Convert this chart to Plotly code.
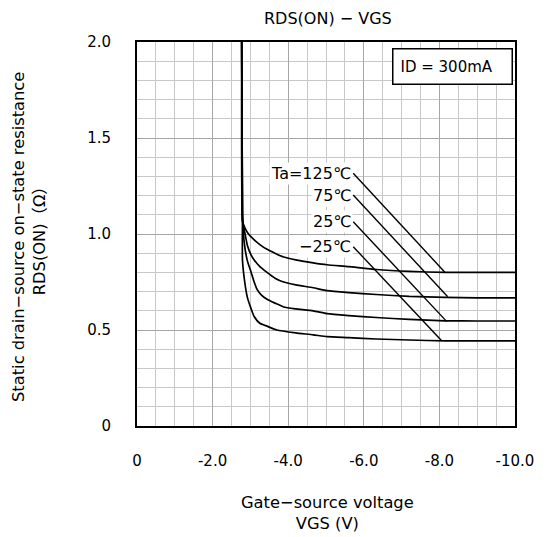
import plotly.graph_objects as go

# ---- data ----
v_125 = [-2.77, -2.78, -2.79, -2.86, -2.95, -3.10, -3.25, -3.44, -3.65, -3.88, -4.20, -4.66, -5.03, -5.60, -6.33, -7.20, -8.15, -9.00, -10.0]
r_125 = [2.00, 1.50, 1.07, 1.03, 1.00, 0.97, 0.945, 0.92, 0.90, 0.88, 0.865, 0.85, 0.84, 0.83, 0.815, 0.805, 0.800, 0.800, 0.800]

v_75 = [-2.77, -2.79, -2.84, -2.92, -3.02, -3.10, -3.25, -3.44, -3.65, -3.88, -4.20, -4.66, -5.03, -5.60, -6.33, -7.20, -8.15, -9.00, -10.0]
r_75 = [2.00, 1.07, 1.02, 0.94, 0.89, 0.865, 0.83, 0.80, 0.77, 0.75, 0.735, 0.72, 0.705, 0.695, 0.685, 0.675, 0.670, 0.667, 0.667]

v_25 = [-2.77, -2.80, -2.84, -2.92, -3.02, -3.10, -3.18, -3.30, -3.44, -3.65, -3.88, -4.20, -4.66, -5.03, -5.60, -6.33, -7.20, -8.15, -9.00, -10.0]
r_25 = [2.00, 1.07, 0.95, 0.86, 0.80, 0.75, 0.71, 0.68, 0.66, 0.64, 0.62, 0.61, 0.60, 0.585, 0.575, 0.565, 0.555, 0.548, 0.547, 0.547]

v_m25 = [-2.77, -2.79, -2.79, -2.85, -2.92, -3.02, -3.10, -3.25, -3.44, -3.70, -4.20, -4.66, -5.03, -5.60, -6.33, -7.20, -8.15, -9.00, -10.0]
r_m25 = [2.00, 1.07, 0.865, 0.75, 0.67, 0.61, 0.57, 0.535, 0.52, 0.50, 0.485, 0.475, 0.465, 0.46, 0.453, 0.448, 0.443, 0.443, 0.443]

series_v = [v_125, v_75, v_25, v_m25]
series_r = [r_125, r_75, r_25, r_m25]
series_labels = ["Ta=125℃", "75℃", "25℃", "−25℃"]

# leader lines: label end -> point on curve
label_x = [-5.72, -5.72, -5.72, -5.72]
label_y = [1.316, 1.203, 1.064, 0.934]
point_x = [-8.15, -8.22, -8.19, -8.06]
point_y = [0.800, 0.673, 0.545, 0.444]

x_tickvals = [0, -2, -4, -6, -8, -10]
x_ticktext = ["0", "-2.0", "-4.0", "-6.0", "-8.0", "-10.0"]
y_tickvals = [0, 0.5, 1.0, 1.5, 2.0]
y_ticktext = ["0", "0.5", "1.0", "1.5", "2.0"]

title_text = "RDS(ON) − VGS"
cond_text = "ID = 300mA"
x_title = "Gate−source voltage<br>VGS (V)"
y_title = "Static drain−source on−state resistance<br>RDS(ON)（Ω）"

TXT = "DejaVu Sans, Noto Sans CJK JP"
NUM = "DejaVu Sans"

fig = go.Figure()
for v, r in zip(series_v, series_r):
    fig.add_trace(go.Scatter(x=v, y=r, mode="lines",
                             line=dict(color="black", width=1.7, shape="spline", smoothing=0.5),
                             showlegend=False, hoverinfo="skip"))

for lx, ly, px, py in zip(label_x, label_y, point_x, point_y):
    fig.add_trace(go.Scatter(x=[lx, px], y=[ly, py], mode="lines",
                             line=dict(color="black", width=1.4),
                             showlegend=False, hoverinfo="skip"))

for lab, lx, ly in zip(series_labels, label_x, label_y):
    fig.add_annotation(x=lx, y=ly, xref="x", yref="y", text=lab, showarrow=False,
                       xanchor="right", yanchor="middle", bgcolor="white", borderpad=1,
                       font=dict(family=TXT, size=16, color="black"))

fig.add_annotation(x=0.835, y=0.936, xref="paper", yref="paper", text=cond_text,
                   showarrow=False, xanchor="center", yanchor="middle", align="left",
                   width=104, height=20, borderpad=7, bordercolor="black", borderwidth=1.5,
                   bgcolor="white", font=dict(family=TXT, size=15, color="black"))

fig.add_annotation(x=0.505, y=1.06, xref="paper", yref="paper", text=title_text,
                   showarrow=False, xanchor="center", yanchor="middle",
                   font=dict(family=TXT, size=16, color="black"))

fig.add_annotation(x=0.505, y=-0.226, xref="paper", yref="paper", text=x_title,
                   showarrow=False, xanchor="center", yanchor="middle",
                   font=dict(family=TXT, size=16.3, color="black"))

fig.add_annotation(x=-0.286, y=0.492, xref="paper", yref="paper", text=y_title,
                   showarrow=False, xanchor="center", yanchor="middle", textangle=-90,
                   font=dict(family=TXT, size=16.3, color="black"))

major_grid = "#a6a6a6"
minor_grid = "#c8c8c8"

fig.update_xaxes(range=[0, -10], tickmode="array", tickvals=x_tickvals, ticktext=x_ticktext,
                 showgrid=True, gridcolor=major_grid, gridwidth=1.3,
                 minor=dict(dtick=0.5, tick0=0, showgrid=True, gridcolor=minor_grid, gridwidth=1.3),
                 showline=True, linecolor="black", linewidth=2, mirror=True,
                 ticks="", ticklabelstandoff=20, zeroline=False,
                 tickfont=dict(family=NUM, size=15, color="black"))
fig.update_yaxes(range=[0, 2.0], tickmode="array", tickvals=y_tickvals, ticktext=y_ticktext,
                 showgrid=True, gridcolor=major_grid, gridwidth=1.3,
                 minor=dict(dtick=0.1, tick0=0, showgrid=True, gridcolor=minor_grid, gridwidth=1.3),
                 showline=True, linecolor="black", linewidth=2, mirror=True,
                 ticks="", ticklabelstandoff=21, zeroline=False,
                 tickfont=dict(family=NUM, size=15, color="black"))

fig.update_layout(width=546, height=537, margin=dict(l=137, r=25, t=42, b=111),
                  paper_bgcolor="white", plot_bgcolor="white", showlegend=False)

fig.write_html("out.html")
